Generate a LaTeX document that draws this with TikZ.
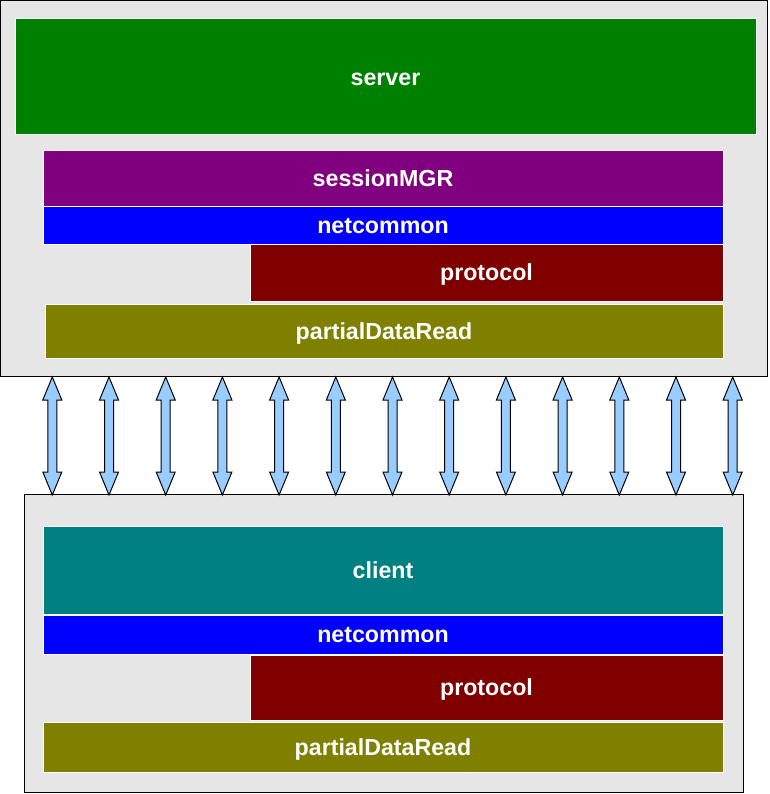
\documentclass[tikz,border=0pt]{standalone}
\usepackage{fontspec}
\setmainfont{Liberation Sans}
\definecolor{panelgray}{HTML}{E6E6E6}
\definecolor{srvgreen}{HTML}{008000}
\definecolor{sesspurple}{HTML}{800080}
\definecolor{netblue}{HTML}{0000FF}
\definecolor{protored}{HTML}{800000}
\definecolor{pdrolive}{HTML}{808000}
\definecolor{clientteal}{HTML}{008080}
\definecolor{arrowblue}{HTML}{99CCFF}
\begin{document}
\begin{tikzpicture}[x=1pt,y=-1pt,
  panel/.style={draw=black, line width=1pt, fill=panelgray},
  layer/.style={draw=white, line width=1pt, inner sep=0pt, text=white,
    text height=18pt, text depth=1.4pt,
    font=\fontsize{23.2}{25}\selectfont\bfseries},
  link/.style={draw=black, line width=1pt, fill=arrowblue, line join=miter}]
\useasboundingbox (0,0) rectangle (769,794);
% panels
\node[panel, inner sep=0pt, minimum width=767pt, minimum height=375.5pt] (srvpanel) at (384,188.25) {};
\node[panel, inner sep=0pt, minimum width=719pt, minimum height=298pt] (clipanel) at (384,643.5) {};
% server layers
\node[layer, fill=srvgreen, minimum width=741pt, minimum height=116pt] (server) at (385.5,77) {server};
\node[layer, fill=sesspurple, minimum width=680pt, minimum height=56pt] (sess) at (383,178.5) {sessionMGR};
\node[layer, fill=netblue, minimum width=680pt, minimum height=37pt] (snet) at (383,225.5) {netcommon};
\node[layer, fill=protored, minimum width=473pt, minimum height=57pt] (sproto) at (486.5,272.5) {protocol};
\node[layer, fill=pdrolive, minimum width=678pt, minimum height=54pt] (spdr) at (384,331) {partialDataRead};
% client layers
\node[layer, fill=clientteal, minimum width=680pt, minimum height=88pt] (client) at (383,570) {client};
\node[layer, fill=netblue, minimum width=680pt, minimum height=39pt] (cnet) at (383,634.5) {netcommon};
\node[layer, fill=protored, minimum width=473pt, minimum height=65pt] (cproto) at (486.5,687.5) {protocol};
\node[layer, fill=pdrolive, minimum width=680pt, minimum height=50pt] (cpdr) at (383,747) {partialDataRead};
% double arrows between panels
\foreach \i in {0,...,12}{
  \pgfmathsetmacro{\cx}{52.3+56.7*\i}
  \draw[link] (\cx,377) -- (\cx+9.5,400) -- (\cx+4.5,400) -- (\cx+4.5,472)
    -- (\cx+9.5,472) -- (\cx,495) -- (\cx-9.5,472) -- (\cx-4.5,472)
    -- (\cx-4.5,400) -- (\cx-9.5,400) -- cycle;
}
\end{tikzpicture}
\end{document}
